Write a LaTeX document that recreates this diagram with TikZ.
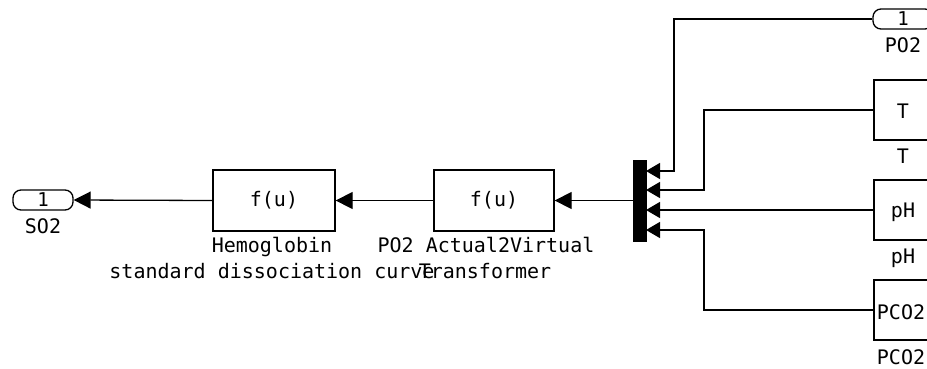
\documentclass[tikz,border=0pt]{standalone}
\usepackage{fontspec}
\setmonofont{DejaVu Sans Mono}
\usetikzlibrary{arrows.meta}
\begin{document}
\begin{tikzpicture}[x=1pt,y=-1pt,
  wire/.style={line width=1.3pt},
  sig/.style={wire,-{Triangle[length=17pt,width=17pt]}},
  msig/.style={wire,-{Triangle[length=14pt,width=16pt]}},
  txt/.style={font=\ttfamily\fontsize{20}{23}\selectfont,inner sep=0pt},
  lbl/.style={txt,anchor=base},
  blk/.style={draw,line width=1.3pt,inner sep=0pt,font=\ttfamily\fontsize{20}{23}\selectfont},
  port/.style={draw,line width=1.3pt,rounded corners=8pt,minimum width=60pt,minimum height=20pt,inner sep=0pt,font=\ttfamily\fontsize{19}{20}\selectfont}]
\useasboundingbox (0,0) rectangle (927,368);
\clip (0,0) rectangle (927,368);
% blocks
\node[port] (s02) at (43,200) {\raisebox{-1pt}{1}};
\node[port] (po2) at (903,19) {\raisebox{-1pt}{1}};
\node[blk,minimum width=122pt,minimum height=61pt] (hb) at (274,200.5) {f(u)};
\node[blk,minimum width=120pt,minimum height=61pt] (tr) at (494,200.5) {f(u)};
\node[draw,fill=black,line width=0pt,minimum width=13pt,minimum height=81pt,inner sep=0pt] (mux) at (639.5,200.5) {};
\node[blk,minimum width=58pt,minimum height=60pt] (tb) at (903,110) {};
\node[blk,minimum width=58pt,minimum height=60pt] (phb) at (903,210) {};
\node[blk,minimum width=58pt,minimum height=60pt] (pcb) at (903,310) {};
\node[txt] (tbt) at (903,111) {T};
\node[txt] (phbt) at (903,212) {pH};
\node[txt] (pcbt) at (901,312) {PCO2};
% mux inputs
\coordinate (in1) at (646,171);
\coordinate (in2) at (646,190);
\coordinate (in3) at (646,210);
\coordinate (in4) at (646,230);
% labels
\node[lbl] (l1) at (272,252) {Hemoglobin};
\node[lbl] (l2) at (272,278) {standard dissociation curve};
\node[lbl] (l3) at (486,252) {PO2 Actual2Virtual};
\node[lbl] (l4) at (485,278) {Transformer};
\node[lbl] (l5) at (43,233) {SO2};
\node[lbl] (l6) at (903,52) {PO2};
\node[lbl] (l7) at (903,163) {T};
\node[lbl] (l8) at (903,263) {pH};
\node[lbl] (l9) at (901,364) {PCO2};
% connectors
\draw[sig] (hb.west) -- (s02.east);
\draw[sig] (tr.west) -- (hb.east);
\draw[sig] (mux.west) -- (tr.east);
\draw[msig] (po2.west) -| ([xshift=28pt]in1) -- (in1);
\draw[msig] (tb.west) -| ([xshift=58pt]in2) -- (in2);
\draw[msig] (phb.west) -- (in3);
\draw[msig] (pcb.west) -| ([xshift=58pt]in4) -- (in4);
\end{tikzpicture}
\end{document}
